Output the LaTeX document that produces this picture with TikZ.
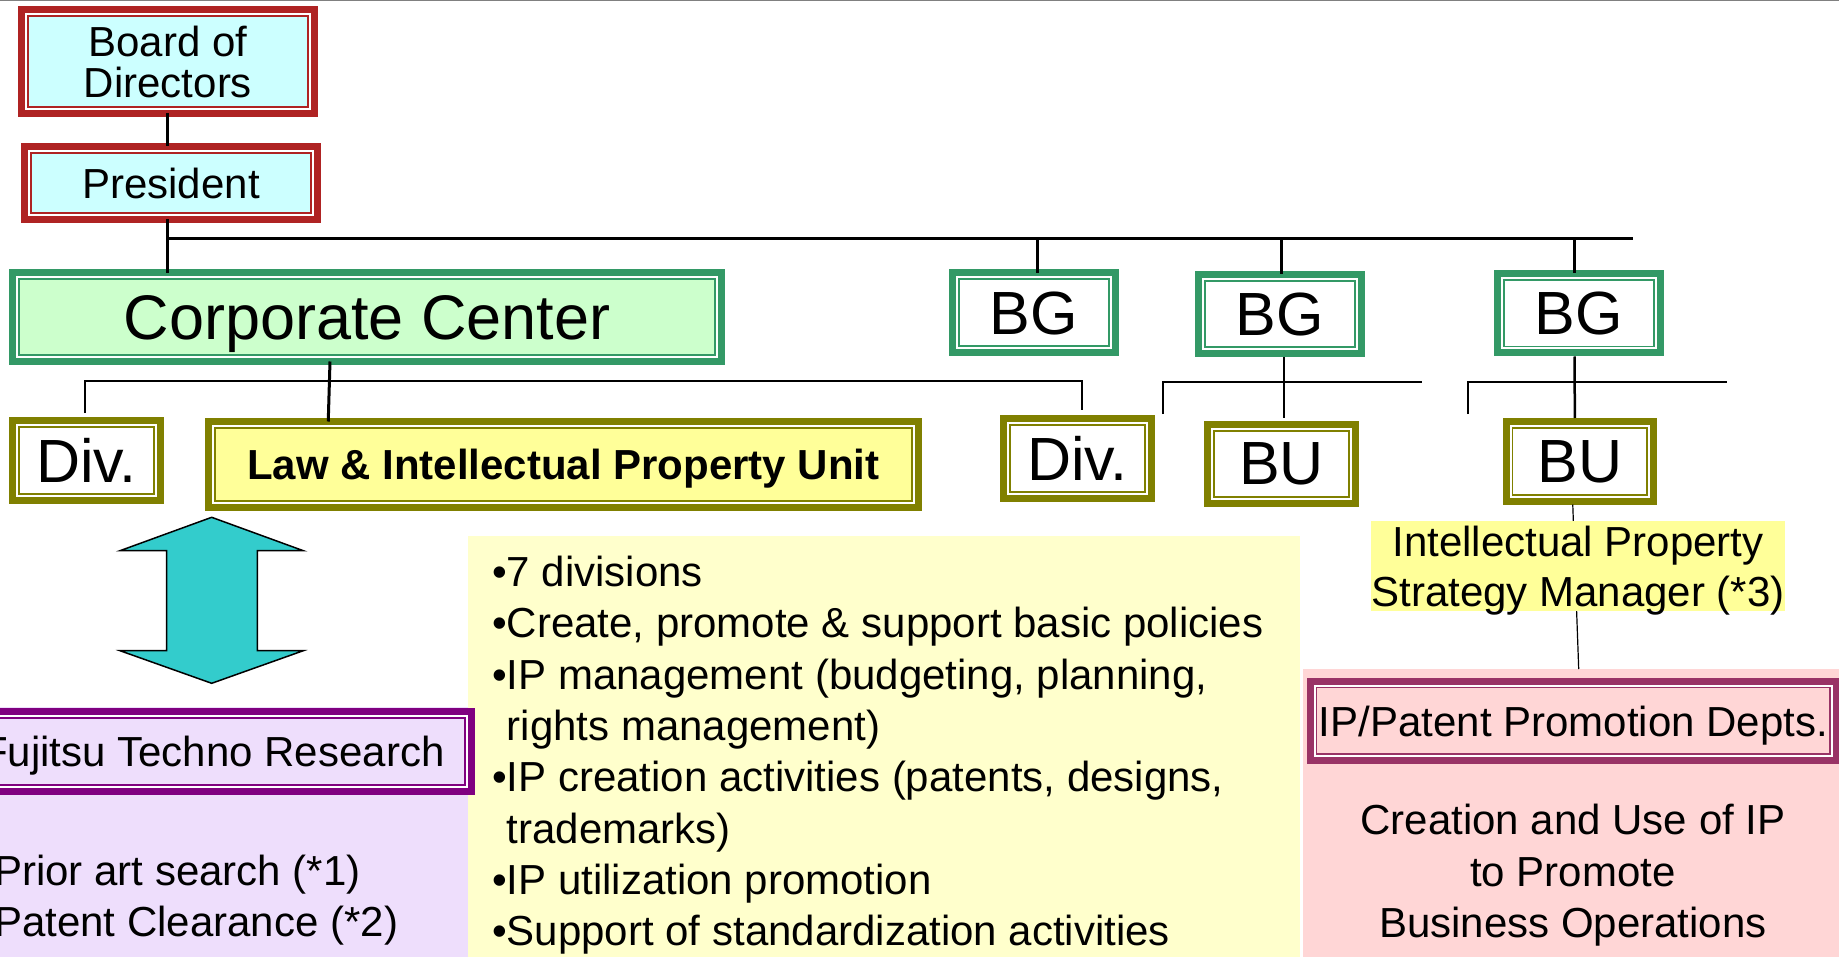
\documentclass[tikz,border=0pt]{standalone}
\usepackage{fontspec}
\setmainfont{Liberation Sans}
\usetikzlibrary{calc}
\usetikzlibrary{positioning}

\definecolor{boardred}{RGB}{175,35,35}
\definecolor{boardfill}{RGB}{204,255,255}
\definecolor{groupgreen}{RGB}{51,153,102}
\definecolor{centerfill}{RGB}{204,255,204}
\definecolor{unitolive}{RGB}{128,128,0}
\definecolor{lawfill}{RGB}{255,255,153}
\definecolor{ftrpurple}{RGB}{128,0,128}
\definecolor{ftrfill}{RGB}{238,222,252}
\definecolor{deptpink}{RGB}{153,51,102}
\definecolor{deptfill}{RGB}{255,214,214}
\definecolor{taskfill}{RGB}{255,255,204}
\definecolor{markfill}{RGB}{255,255,153}
\definecolor{arrowfill}{RGB}{51,204,204}

\tikzset{
  frame/.style 2 args={draw=#1,fill=#2,line width=7,inner sep=0pt,outer sep=0pt,
    align=center,text depth=0pt,
    path picture={
      \draw [white,line width=2]
        ([shift={(4.5,4.5)}]path picture bounding box.north west) rectangle
        ([shift={(-4.5,-4.5)}]path picture bounding box.south east);
      \draw [#1,line width=1.6]
        ([shift={(6.3,6.3)}]path picture bounding box.north west) rectangle
        ([shift={(-6.3,-6.3)}]path picture bounding box.south east);
    }},
  bodytext/.style={font=\fontsize{42}{41}\selectfont},
  bigtext/.style={font=\fontsize{61}{61}\selectfont},
  panel/.style={fill=#1,inner sep=0pt,outer sep=0pt,anchor=north west},
  bus/.style={draw,line width=3},
  twig/.style={draw,line width=2,line join=miter},
}

\begin{document}
\begin{tikzpicture}[x=1pt,y=-1pt]

  \useasboundingbox (0,0) rectangle (1839,957);
  \draw [gray,line width=2] (0,0) -- (1839,0);

  \node [panel=ftrfill,minimum width=470,minimum height=250] (ftr_bg) at (0,707) {};
  \node [panel=taskfill,minimum width=832,minimum height=422] (task_bg) at (468,535.5) {};
  \node [panel=deptfill,minimum width=536,minimum height=288] (dept_bg) at (1303,669) {};

  \node [frame={boardred}{boardfill},bodytext,minimum width=293,minimum height=104] (board) at (168,61.5) {Board of\\Directors};
  \node [frame={boardred}{boardfill},bodytext,minimum width=293,minimum height=73] (president) at (171,183) {President};

  \node [frame={groupgreen}{centerfill},font=\fontsize{63}{63}\selectfont,minimum width=709,minimum height=88.5] (center) at (367,317.25) {Corporate Center};
  \node [frame={groupgreen}{white},bigtext,minimum width=163,minimum height=79.5] (bg_1) at (1034,312.75) {BG};
  \node [frame={groupgreen}{white},bigtext,minimum width=163,minimum height=79] (bg_2) at (1280,314) {BG};
  \node [frame={groupgreen}{white},bigtext,minimum width=163,minimum height=79.5] (bg_3) at (1579,313.25) {BG};

  \node [frame={unitolive}{white},bigtext,minimum width=148,minimum height=80] (div_1) at (86.5,460.5) {Div.};
  \node [frame={unitolive}{lawfill},font=\fontsize{42}{42}\selectfont\bfseries,minimum width=709.5,minimum height=85.5] (law) at (563.25,464.25) {Law \& Intellectual Property Unit};
  \node [frame={unitolive}{white},bigtext,minimum width=148,minimum height=80] (div_2) at (1077.5,458.5) {Div.};
  \node [frame={unitolive}{white},bigtext,minimum width=148,minimum height=79] (bu_2) at (1281.5,464) {BU};
  \node [frame={unitolive}{white},bigtext,minimum width=147.5,minimum height=79.5] (bu_3) at (1579.75,461.25) {BU};

  \node [frame={ftrpurple}{ftrfill},bodytext,minimum width=515.7,minimum height=79.4] (ftr) at (213.35,751.5) {Fujitsu Techno Research};
  \node [frame={deptpink}{deptfill},bodytext,minimum width=526.3,minimum height=79.3] (dept) at (1573.35,720.85) {IP/Patent Promotion Depts.};

  \coordinate (trunk) at (167,239);
  \coordinate (bus_end) at (1633,239);
  \path [bus]
    (board.south -| trunk) edge (president.north -| trunk)
    (president.south -| trunk) edge (center.north -| trunk)
    (trunk) edge (bus_end)
    ($(bg_1.north |- bus_end)+(3.5,0)$) edge ($(bg_1.north)+(3.5,0)$)
    ($(bg_2.north |- bus_end)+(1,0)$) edge ($(bg_2.north)+(1,0)$)
    ($(bg_3.north |- bus_end)+(-5,0)$) edge ($(bg_3.north)+(-5,0)$)
    ($(center.south)+(-37,0)$) edge ($(law.north)+(-235,0)$);

  \coordinate (center_bus) at (0,381);
  \draw [twig] ($(div_1.north)+(-1.5,-7.5)$) -- ($(div_1.north |- center_bus)+(-1.5,0)$)
    -- ($(div_2.north |- center_bus)+(4,0)$) -- ($(div_2.north)+(4,-8.5)$);

  \coordinate (bg_2_drop) at (1162.5,414);
  \coordinate (bg_2_bus) at (1421.6,381.7);
  \draw [twig] (bg_2_drop) |- (bg_2_bus);
  \coordinate (bg_3_drop) at (1468,414);
  \coordinate (bg_3_bus) at (1727,381.7);
  \draw [twig] (bg_3_drop) |- (bg_3_bus);

  \path [draw,line width=2.5]
    ($(bg_2.south)+(4,3.5)$) edge ($(bu_2.north)+(2.5,-6.8)$)
    ($(bg_3.south)+(-4.3,3.5)$) edge ($(bu_3.north)+(-5,-3.5)$);

  \draw [line width=1.2] ($(bu_3.south)+(-7,3.5)$) -- ($(dept_bg.north west)+(275.7,0)$);

  \node [fill=markfill,inner sep=0pt,minimum width=410,minimum height=90,align=center,text depth=0pt,
    font=\fontsize{42}{50}\selectfont] (ip_manager) at (1578,566) {Intellectual Property\\Strategy Manager (*3)};

  \draw [fill=arrowfill,line width=1.5,line join=miter]
    (211.7,517.3) -- (303.3,550.7) -- (257.3,550.7) -- (257.3,650.7) -- (303.3,650.7)
    -- (211.7,683.3) -- (120,650.7) -- (166.7,650.7) -- (166.7,550.7) -- (120,550.7) -- cycle;

  \node [anchor=north west,inner sep=0pt,align=left,font=\fontsize{42}{51}\selectfont] (ftr_tasks) at (-6,855) {Prior art search (*1)\\Patent Clearance (*2)};

  \node [anchor=north west,inner sep=0pt,align=left,font=\fontsize{42}{51.3}\selectfont] (law_tasks) at (492,556) {%
    •7 divisions\\
    •Create, promote \& support basic policies\\
    •IP management (budgeting, planning,\\
    \phantom{•}rights management)\\
    •IP creation activities (patents, designs,\\
    \phantom{•}trademarks)\\
    •IP utilization promotion\\
    •Support of standardization activities};

  \node [inner sep=0pt,align=center,text depth=0pt,font=\fontsize{42}{51.5}\selectfont] (dept_goal) at (1573,871) {Creation and Use of IP\\to Promote\\Business Operations};

\end{tikzpicture}
\end{document}
